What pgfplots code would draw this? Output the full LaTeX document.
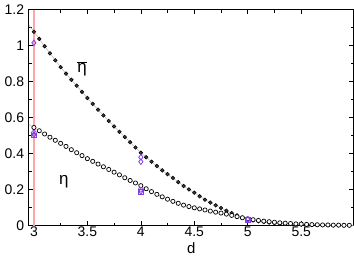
\documentclass[border=0pt]{standalone}
\usepackage{fontspec}
\setmainfont{Liberation Sans}
\usepackage{pgfplots}
\pgfplotsset{compat=1.18}
\definecolor{purp}{RGB}{130,60,230}
\definecolor{pinkline}{RGB}{255,165,165}
\begin{document}
\fontsize{14}{16}\selectfont
\begin{tikzpicture}
\begin{axis}[
  scale only axis, width=326pt, height=217pt,
  xmin=2.953, xmax=5.99, ymin=0, ymax=1.2,
  xtick={3,3.5,4,4.5,5,5.5}, ytick={0,0.2,0.4,0.6,0.8,1,1.2},
  minor x tick num=1, minor y tick num=1,
  tick align=inside, major tick length=5pt, minor tick length=3pt,
  xtick pos=both, ytick pos=both,
  tick style={black, line width=0.6pt},
  axis line style={line width=0.8pt},
  /pgf/number format/assume math mode=true,
  ticklabel style={font=\fontsize{14}{16}\selectfont},
  xticklabel style={yshift=4pt},
  xlabel={d}, xlabel style={inner sep=1pt, yshift=0pt, font=\fontsize{15}{17}\selectfont},
  clip=true,
]
\addplot[pinkline, line width=1.4pt, forget plot] coordinates {(3,0) (3,1.2)};
% eta bar (upper)
\addplot[gray!70, line width=0.4pt, mark=*, mark size=1.8pt,
  mark options={draw=black, fill=gray!50!black, line width=0.6pt}] coordinates {
(2.95,1.117)(3.00,1.076)(3.05,1.037)(3.10,0.996)(3.15,0.957)(3.20,0.918)
(3.25,0.880)(3.30,0.844)(3.35,0.810)(3.40,0.777)(3.45,0.743)(3.50,0.709)
(3.55,0.676)(3.60,0.644)(3.65,0.612)(3.70,0.581)(3.75,0.551)(3.80,0.521)
(3.85,0.492)(3.90,0.463)(3.95,0.434)(4.00,0.405)(4.05,0.380)(4.10,0.355)
(4.15,0.331)(4.20,0.307)(4.25,0.286)(4.30,0.265)(4.35,0.242)(4.40,0.220)
(4.45,0.201)(4.50,0.183)(4.55,0.163)(4.60,0.144)(4.65,0.128)(4.70,0.113)
(4.75,0.098)(4.80,0.083)(4.85,0.070)(4.90,0.057)(4.95,0.045)(5.00,0.035)
(5.05,0.029)(5.10,0.024)(5.15,0.020)(5.20,0.017)(5.25,0.014)(5.30,0.012)
(5.35,0.010)(5.40,0.009)(5.45,0.007)(5.50,0.006)(5.55,0.005)(5.60,0.004)
(5.65,0.004)(5.70,0.003)(5.75,0.003)(5.80,0.002)(5.85,0.002)(5.90,0.002)
(5.95,0.001)(6.00,0.001)};
% eta (lower)
\addplot[gray!70, line width=0.4pt, mark=*, mark size=2.1pt,
  mark options={draw=black, fill=white, line width=0.7pt}] coordinates {
(2.95,0.563)(3.00,0.545)(3.05,0.527)(3.10,0.509)(3.15,0.491)(3.20,0.474)
(3.25,0.457)(3.30,0.440)(3.35,0.422)(3.40,0.405)(3.45,0.389)(3.50,0.372)
(3.55,0.357)(3.60,0.342)(3.65,0.327)(3.70,0.312)(3.75,0.297)(3.80,0.282)
(3.85,0.266)(3.90,0.251)(3.95,0.237)(4.00,0.222)(4.05,0.205)(4.10,0.189)
(4.15,0.174)(4.20,0.160)(4.25,0.147)(4.30,0.135)(4.35,0.124)(4.40,0.114)
(4.45,0.106)(4.50,0.099)(4.55,0.093)(4.60,0.087)(4.65,0.081)(4.70,0.075)
(4.75,0.070)(4.80,0.064)(4.85,0.057)(4.90,0.050)(4.95,0.044)(5.00,0.038)
(5.05,0.033)(5.10,0.029)(5.15,0.025)(5.20,0.022)(5.25,0.019)(5.30,0.016)
(5.35,0.014)(5.40,0.012)(5.45,0.010)(5.50,0.009)(5.55,0.007)(5.60,0.006)
(5.65,0.005)(5.70,0.004)(5.75,0.004)(5.80,0.003)(5.85,0.003)(5.90,0.002)
(5.95,0.002)(6.00,0.002)};
% purple reference points
\addplot[only marks, purp, mark=o, mark size=2.4pt, line width=0.8pt] coordinates {
(3,0.515)(4,0.200)(5,0.035)};
\addplot[only marks, purp, mark=square, mark size=2.2pt, line width=0.8pt] coordinates {
(3,0.500)(4,0.188)(5,0.033)};
\addplot[only marks, purp, mark=diamond, mark size=2.8pt, line width=0.8pt] coordinates {
(3,1.015)(4,0.380)(4,0.355)(3,0.505)(4,0.190)(5,0.034)};
\node at (axis cs:3.45,0.87) {\fontsize{17}{19}\selectfont$\overline{\hbox{η}}$};
\node at (axis cs:3.28,0.245) {\fontsize{17}{19}\selectfont η};
\end{axis}
\path (current axis.south west) ++(0,-34pt);
\end{tikzpicture}
\end{document}
